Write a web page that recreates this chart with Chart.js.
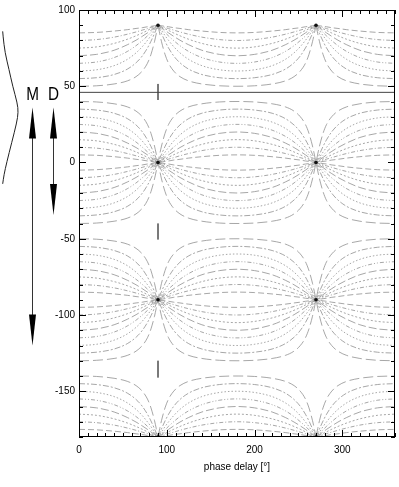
<!DOCTYPE html>
<html>
<head>
<meta charset="utf-8">
<script src="https://cdn.jsdelivr.net/npm/chart.js@4.4.1/dist/chart.umd.min.js"></script>
<style>
  html, body { margin: 0; padding: 0; background: #fff; }
</style>
</head>
<body>
<canvas id="chart" width="399" height="487"></canvas>
<script>
// phase delay samples over the first quarter (0..90 deg); the rest of the
// curve is the mirror image of this quarter
var phaseX = [0, 20, 40, 55, 65, 72, 78, 82, 86, 88, 90];

// orientation offset of each curve (one array per start value)
var orient5  = [5, 4.7, 3.8, 2.9, 2.1, 1.6, 1.0, 0.7, 0.35, 0.2, 0];
var orient10 = [10, 9.4, 7.8, 5.9, 4.4, 3.2, 2.2, 1.4, 0.7, 0.4, 0];
var orient15 = [15, 14.2, 11.9, 9.2, 6.9, 5.1, 3.4, 2.3, 1.2, 0.6, 0];
var orient20 = [20, 19.1, 16.4, 12.8, 9.8, 7.3, 5.0, 3.3, 1.7, 0.8, 0];
var orient25 = [25, 24.1, 21.2, 17.2, 13.4, 10.1, 7.0, 4.7, 2.4, 1.2, 0];
var orient30 = [30, 29.2, 26.5, 22.4, 18.1, 14.1, 9.9, 6.8, 3.4, 1.7, 0];
var orient35 = [35, 34.4, 32.3, 28.8, 24.6, 20.2, 14.9, 10.5, 5.4, 2.7, 0];
var orient40 = [40, 39.7, 38.5, 36.5, 33.7, 30.1, 24.9, 19.1, 10.8, 5.6, 0];
var profiles = [orient5, orient10, orient15, orient20, orient25, orient30, orient35, orient40];

// the family repeats every 90 deg; only values between -180 and 90 are drawn
var panelCenters = [90, 0, -90, -180];
var nodePhases = [90, 270];
var yLow = -180, yHigh = 90;

var xTicks = [0, 100, 200, 300];
var yTicks = [100, 50, 0, -50, -100, -150];

// separator line and the short marks at 90 deg
var sepX = [0, 360];
var sepY = [46, 46];
var markX = 90;
var markTop = [51.5, -40, -130];
var markBottom = [41, -50.5, -141];

// side sketch: profile curve (y value, offset px from the left edge) and the two arrows
var waveY = [86, 83, 72, 61, 50, 39, 33, 26, 13, 0, -8, -14];
var waveOff = [2.7, 3, 5, 9, 12.7, 17.3, 18.3, 16.7, 11.7, 6.7, 4, 2.7];
var arrowNames = ['M', 'D'];
var arrowTop = [36, 36];
var arrowBottom = [-120, -34.5];

var dashes = [[6, 3], [4, 2, 1, 2], [2, 2], [8, 3], [4, 2, 1, 2, 1, 2], [1.5, 2], [6, 2, 2, 2], [10, 4]];

function fullCurve(profile) {
  var xs = [], ys = [];
  var i;
  for (i = 0; i < phaseX.length; i++) { xs.push(phaseX[i]); ys.push(profile[i]); }
  for (i = phaseX.length - 2; i >= 0; i--) { xs.push(180 - phaseX[i]); ys.push(-profile[i]); }
  var n = xs.length;
  for (i = n - 2; i >= 0; i--) { xs.push(360 - xs[i]); ys.push(ys[i]); }
  return { xs: xs, ys: ys };
}

var datasets = [];
panelCenters.forEach(function (c) {
  [1, -1].forEach(function (sign) {
    profiles.forEach(function (p, k) {
      var cur = fullCurve(p);
      var pts = cur.xs.map(function (xv, j) {
        var v = c + sign * cur.ys[j];
        if (v > yHigh + 1e-6 || v < yLow - 1e-6) v = null;
        return { x: xv, y: v };
      });
      datasets.push({
        data: pts,
        borderColor: '#8a8a8a',
        borderWidth: 0.75,
        borderDash: dashes[k],
        pointRadius: 0,
        cubicInterpolationMode: 'monotone',
        spanGaps: false
      });
    });
  });
});

// dark spots where all the curves of a family cross (drawn on top)
var nodes = [];
panelCenters.forEach(function (c) {
  nodePhases.forEach(function (ph) { nodes.push({ x: ph, y: c }); });
});
datasets.push({
  data: nodes, showLine: false, order: -1,
  pointRadius: 1.8, pointBackgroundColor: '#111', pointBorderWidth: 0
});

datasets.push({
  data: [{ x: sepX[0], y: sepY[0] }, { x: sepX[1], y: sepY[1] }],
  borderColor: '#444', borderWidth: 1, pointRadius: 0, order: -1
});
markTop.forEach(function (t, i) {
  datasets.push({
    data: [{ x: markX, y: t }, { x: markX, y: markBottom[i] }],
    borderColor: '#555', borderWidth: 0.8, pointRadius: 0, order: -1
  });
});

var deco = {
  id: 'deco',
  afterDraw: function (chart) {
    var ctx = chart.ctx, a = chart.chartArea;
    var xs = chart.scales.x, ys = chart.scales.y;
    ctx.save();
    ctx.strokeStyle = '#000';
    ctx.lineWidth = 1;
    ctx.strokeRect(Math.round(a.left) + 0.5, Math.round(a.top) + 0.5,
      Math.round(a.right - a.left) - 1, Math.round(a.bottom - a.top) - 1);

    function seg(x1, y1, x2, y2) {
      ctx.beginPath(); ctx.moveTo(x1, y1); ctx.lineTo(x2, y2); ctx.stroke();
    }
    var v, p, len;
    for (v = 0; v <= 360; v += 10) {
      p = Math.round(xs.getPixelForValue(v)) + 0.5;
      len = v % 100 === 0 ? 7 : 4;
      seg(p, a.bottom, p, a.bottom - len);
      seg(p, a.top, p, a.top + len);
    }
    for (v = -180; v <= 100; v += 10) {
      p = Math.round(ys.getPixelForValue(v)) + 0.5;
      len = v % 50 === 0 ? 7 : 4;
      seg(a.left, p, a.left + len, p);
      seg(a.right, p, a.right - len, p);
    }

    // profile sketch on the left
    ctx.strokeStyle = '#222';
    ctx.lineWidth = 1;
    ctx.beginPath();
    var pts = waveY.map(function (wy, i) { return [waveOff[i], ys.getPixelForValue(wy)]; });
    ctx.moveTo(pts[0][0], pts[0][1]);
    for (var i = 1; i < pts.length - 1; i++) {
      var mx = (pts[i][0] + pts[i + 1][0]) / 2, my = (pts[i][1] + pts[i + 1][1]) / 2;
      ctx.quadraticCurveTo(pts[i][0], pts[i][1], mx, my);
    }
    ctx.lineTo(pts[pts.length - 1][0], pts[pts.length - 1][1]);
    ctx.stroke();

    // arrows
    var arrowX = [32, 53];
    arrowNames.forEach(function (name, k) {
      var ax = arrowX[k] + 0.5;
      var t = ys.getPixelForValue(arrowTop[k]);
      var b = ys.getPixelForValue(arrowBottom[k]);
      ctx.strokeStyle = '#333';
      ctx.lineWidth = 1;
      seg(ax, t + 20, ax, b - 20);
      ctx.fillStyle = '#000';
      ctx.beginPath();
      ctx.moveTo(ax, t); ctx.lineTo(ax - 3.5, t + 31); ctx.lineTo(ax + 3.5, t + 31); ctx.closePath();
      ctx.fill();
      ctx.beginPath();
      ctx.moveTo(ax, b); ctx.lineTo(ax - 3.5, b - 31); ctx.lineTo(ax + 3.5, b - 31); ctx.closePath();
      ctx.fill();
      ctx.save();
      ctx.translate(ax, t - 13);
      ctx.scale(0.85, 1);
      ctx.font = '18px "Liberation Sans", Arial, sans-serif';
      ctx.textAlign = 'center';
      ctx.textBaseline = 'middle';
      ctx.fillText(name, 0, 0);
      ctx.restore();
    });
    ctx.restore();
  }
};

var tickFont = { family: '"Liberation Sans", Arial, sans-serif', size: 10 };

new Chart(document.getElementById('chart').getContext('2d'), {
  type: 'line',
  data: { datasets: datasets },
  options: {
    responsive: false,
    animation: false,
    layout: { padding: { left: 0, right: 4, top: 6, bottom: 0 } },
    plugins: { legend: { display: false }, tooltip: { enabled: false } },
    scales: {
      x: {
        type: 'linear', min: 0, max: 360,
        grid: { display: false, drawTicks: false },
        border: { display: false },
        afterBuildTicks: function (s) { s.ticks = xTicks.map(function (v) { return { value: v }; }); },
        afterFit: function (s) { s.height = 50; },
        ticks: { color: '#000', font: tickFont, padding: 7, maxRotation: 0 },
        title: { display: true, text: 'phase delay [°]', color: '#000', font: tickFont, padding: { top: 0, bottom: 14 } }
      },
      y: {
        type: 'linear', min: -180, max: 100,
        grid: { display: false, drawTicks: false },
        border: { display: false },
        afterBuildTicks: function (s) { s.ticks = yTicks.map(function (v) { return { value: v }; }); },
        afterFit: function (s) { s.width = 79; },
        ticks: { color: '#000', font: tickFont, padding: 4 }
      }
    }
  },
  plugins: [deco]
});
</script>
</body>
</html>
